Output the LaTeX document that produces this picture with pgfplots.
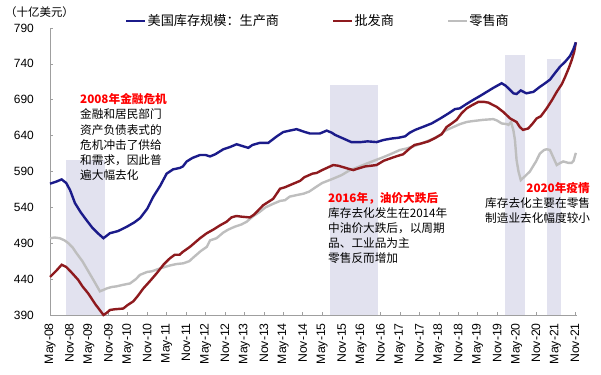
\documentclass[border=0pt]{standalone}
\usepackage{pgfplots}
\usepackage{pgfplotstable}
\pgfplotsset{compat=1.18}
\usepackage{fontspec}
\setmainfont{Liberation Sans}
\newfontfamily\cjk{Noto Sans CJK SC}
\definecolor{navyc}{HTML}{1B1B8A}
\definecolor{redc}{HTML}{8E1A1E}
\definecolor{grayc}{HTML}{BEBEBE}
\definecolor{boxc}{HTML}{E2E2EF}
\definecolor{anred}{HTML}{FF0000}

% month index: 0 = May-08
\pgfplotstableread{
m v
0 573
2 576
3.6 579
5 574
6.2 564
7.7 546
9.5 533
11.3 522
13 512
15 503
16.5 497
18.5 504
21 507
23.7 513
26 519
27.8 525
30 538
31.9 555
34 570
36 587
38 593
40.1 595
41 597
42.2 604
44 609
46.3 613
48 613
49.4 611
51 614
53.5 621
55.5 624
57.6 628
59 626
61.2 623
62.5 627
64.8 630
67.4 630
70 639
72 645
74 647
76.1 649
78.7 645
80.2 643
83.3 643
85.4 647
87 644
88 641
90 637
93 631
96 631
98 632
100.8 631
103 634
105.5 636
107.5 637
109.6 639
111 644
112.7 648
115 652
117.8 657
120.5 664
123 671
125 677
126.5 678
128.5 684
130.7 690
133 696
134.8 701
137 707
139.4 713
140.5 710
141.5 706
143 699
144 698
145.3 703
147 699
149.2 701
151.2 708
152.5 712
154.3 718
156 728
157.4 736
159 743
160.5 751
161.5 760
162.3 770
}\prodtab

\pgfplotstableread{
m v
0 443
2 452
3.6 460
5 457
6.5 450
8.7 439
10 430
11.8 420
14 405
16.5 390
17.5 393
18.5 397
20 398
22.6 399
24 404
25.7 409
27 416
28.8 427
31 438
32.9 448
35 460
37 469
38.5 474
40 474
41 478
43.2 485
44.5 490
46.3 497
48.4 504
50.4 509
52.5 515
54.5 520
56 526
57.5 528
59.2 527
61.7 526
63 530
65.8 543
68.9 552
71 566
72.5 568
75.1 573
77.2 577
78.5 582
81 587
82.3 588
84 592
87.4 599
89 598
90.5 596
92 594
93.6 592
95 594
97.2 597
99 598
100.8 599
103 605
105.5 609
107.5 612
109 614
111 622
112.5 627
114.5 629
116.8 632
119 637
120.9 642
122.4 652
124 657
125.5 662
127 671
128.6 678
130.5 683
132.2 687
134 687
135.3 686
137.9 680
139.9 673
142 664
144 659
145 652
146 648
147.6 650
149 657
150.2 664
151.5 667
153.3 678
155 690
156.4 701
158 712
159 722
160.2 735
161 745
161.8 757
162.3 770
}\wholetab

\pgfplotstableread{
m v
0 497
1.5 498
3 497
4.5 494
5.7 490
7 484
8.2 476
10 465
11.3 455
13.5 438
15.4 423
16.5 425
17.5 427
19 429
20.6 430
22.5 432
24.7 434
26.5 440
27.8 446
30 450
31.5 451
34 455
37 459
39 461
41.1 462
43 465
44.2 470
46.5 479
48.4 485
49.4 494
51.4 497
53.5 505
55 509
57 513
59 516
60.7 520
62.5 527
64.8 534
66.5 540
68.9 545
71 549
72.5 550
74 555
76 557
78.2 559
80 562
82.3 569
84 574
87.4 580
90 585
92.6 592
95 596
97.7 601
100 605
102.9 610
105 614
108 620
110 622
112.1 625
114 628
116.3 632
118.5 636
120.4 641
122 647
124.5 652
126.5 656
128.6 659
130 660
133.7 662
136.8 663
138 661
139.4 657
141 656
141.5 655
142.3 659
143 648
143.5 634
144 606
144.6 590
145.3 578
146.5 583
148.1 590
150 604
151.2 615
152.5 620
153.3 621
154.3 620
155.3 610
156.4 599
157.5 602
158.4 604
160 602
161 602
161.6 605
162.3 616
}\retailtab

\begin{document}
\begin{tikzpicture}
\useasboundingbox (-50bp,-60bp) rectangle (551bp,315bp);
\begin{axis}[
  scale only axis, width=526.5bp, height=287bp,
  xmin=0, xmax=162.5, ymin=390, ymax=790,
  axis x line*=bottom, axis y line*=left,
  axis line style={draw=gray!75, line width=0.6bp},
  ytick={390,440,...,790},
  xtick={0,6,...,162},
  xticklabels={May-08,Nov-08,May-09,Nov-09,May-10,Nov-10,May-11,Nov-11,May-12,Nov-12,May-13,Nov-13,May-14,Nov-14,May-15,Nov-15,May-16,Nov-16,May-17,Nov-17,May-18,Nov-18,May-19,Nov-19,May-20,Nov-20,May-21,Nov-21},
  tick align=inside,
  major tick length=3bp,
  tick style={draw=gray!75, line width=0.6bp},
  yticklabel style={anchor=east, inner sep=0pt, font=\fontsize{12}{14}\selectfont},
  xticklabel style={rotate=90, anchor=east, inner sep=0pt, font=\fontsize{12.3}{14}\selectfont},
  xticklabel shift=8bp, yticklabel shift=16bp,
  /pgf/number format/assume math mode=true,
  clip=false,
  legend columns=3,
  legend image code/.code={\draw[#1] (0bp,0bp) -- (19bp,0bp);},
  legend style={at={(axis description cs:0.1425,1.0244)}, anchor=west,
    draw=none, fill=none, inner sep=0pt,
    font=\cjk\fontsize{13.2}{15}\selectfont,
    nodes={inner sep=1bp},
    /tikz/every even column/.append style={column sep=52bp}},
]
\addlegendimage{navyc, line width=2.4bp}
\addlegendentry{美国库存规模：生产商}
\addlegendimage{redc, line width=2.4bp}
\addlegendentry{批发商}
\addlegendimage{grayc, line width=2.4bp}
\addlegendentry{零售商}

\addplot[fill=boxc, draw=none, forget plot] coordinates {(5,390) (5,606) (17,606) (17,390)} -- cycle;
\addplot[fill=boxc, draw=none, forget plot] coordinates {(86.5,390) (86.5,711) (101.3,711) (101.3,390)} -- cycle;
\addplot[fill=boxc, draw=none, forget plot] coordinates {(140.4,390) (140.4,752) (146.6,752) (146.6,390)} -- cycle;
\addplot[fill=boxc, draw=none, forget plot] coordinates {(153.3,390) (153.3,747) (157.7,747) (157.7,390)} -- cycle;

\addplot[grayc, line width=2.4bp, forget plot] table[x=m, y=v] {\retailtab};
\addplot[redc, line width=2.4bp, forget plot] table[x=m, y=v] {\wholetab};
\addplot[navyc, line width=2.4bp, forget plot] table[x=m, y=v] {\prodtab};
\end{axis}

% y-axis unit
\node[anchor=base west, inner sep=0pt, font=\cjk\fontsize{11.5}{13}\selectfont] at (-45bp,298bp) {（十亿美元）};

% annotation 1
\begin{scope}[every node/.style={anchor=base west, inner sep=0pt, font=\cjk\fontsize{11.7}{13}\selectfont}]
\node[text=anred, font=\cjk\bfseries\fontsize{11.7}{13}\selectfont] at (30bp,211.6bp) {2008年金融危机};
\node at (30bp,196.1bp) {金融和居民部门};
\node at (30bp,180.6bp) {资产负债表式的};
\node at (30bp,165.1bp) {危机冲击了供给};
\node at (30bp,150.1bp) {和需求，因此普};
\node at (30bp,135.1bp) {遍大幅去化};
% annotation 2
\node[text=anred, font=\cjk\bfseries\fontsize{11.7}{13}\selectfont] at (278bp,112.1bp) {2016年，油价大跌后};
\node at (278bp,97.1bp) {库存去化发生在2014年};
\node at (278bp,82.1bp) {中油价大跌后，以周期};
\node at (278bp,67.1bp) {品、工业品为主};
\node at (278bp,52.1bp) {零售反而增加};
% annotation 3
\node[anchor=base east, text=anred, font=\cjk\bfseries\fontsize{11.7}{13}\selectfont] at (540bp,122.3bp) {2020年疫情};
\node at (435bp,107.3bp) {库存去化主要在零售};
\node at (435bp,92.9bp) {制造业去化幅度较小};
\end{scope}
\end{tikzpicture}
\end{document}
